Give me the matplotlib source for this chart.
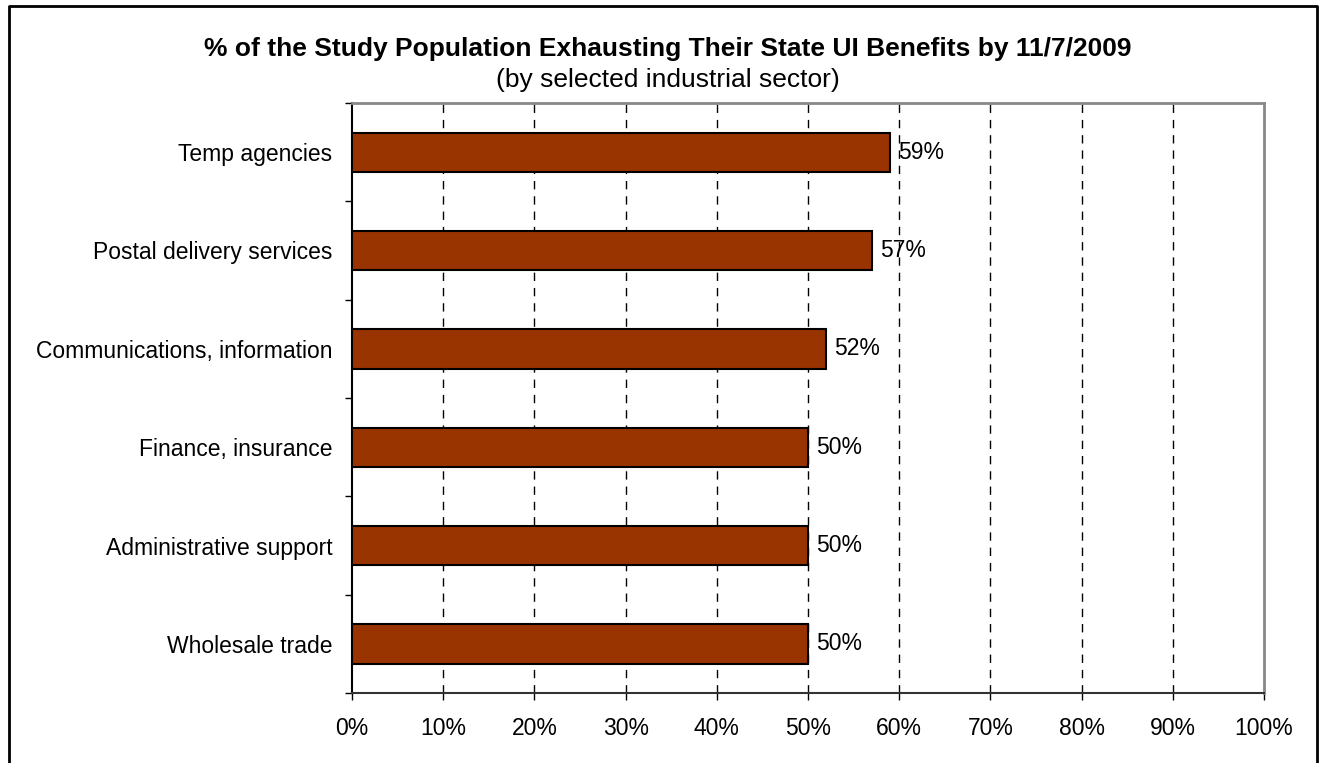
import matplotlib
matplotlib.use("Agg")
import matplotlib.pyplot as plt
from matplotlib.lines import Line2D
import numpy as np

categories = ["Temp agencies", "Postal delivery services", "Communications, information",
              "Finance, insurance", "Administrative support", "Wholesale trade"]
values = [59, 57, 52, 50, 50, 50]
xticks = [0, 10, 20, 30, 40, 50, 60, 70, 80, 90, 100]
xtick_labels = [f"{v}%" for v in xticks]
title = "% of the Study Population Exhausting Their State UI Benefits by 11/7/2009"
subtitle = "(by selected industrial sector)"

plt.rcParams['font.family'] = ['Liberation Sans', 'DejaVu Sans']

W, H = 1322, 763
fig = plt.figure(figsize=(W / 100, H / 100), dpi=100)
ax = fig.add_axes([352 / W, 1 - 693 / H, (1264 - 352) / W, (693 - 103) / H])

n = len(categories)
ypos = np.arange(n)[::-1]
ax.barh(ypos, values, height=0.4, color="#993300", edgecolor="black", linewidth=1.5, zorder=3)

for y, v in zip(ypos, values):
    ax.annotate(f"{v}%", xy=(v, y), xytext=(6, 0), textcoords="offset points",
                ha="left", va="center", fontsize=16.5)

ax.set_xlim(0, 100)
ax.set_ylim(-0.5, n - 0.5)
ax.set_xticks(xticks)
ax.set_xticklabels(xtick_labels, fontsize=16.5)
ax.set_yticks(ypos)
ax.set_yticklabels(categories, fontsize=16.5)
ax.set_yticks(np.arange(-0.5, n, 1.0), minor=True)
ax.tick_params(axis="y", which="major", length=0, pad=14)
ax.tick_params(axis="y", which="minor", length=5, width=1, color="black", direction="out")
ax.tick_params(axis="x", which="major", length=5, width=1, color="black", direction="out", pad=12)

for gx in xticks[1:-1]:
    ax.axvline(gx, color="black", linewidth=1, linestyle=(0, (6, 5)), zorder=1)

ax.spines["left"].set_color("black")
ax.spines["left"].set_linewidth(1.5)
ax.spines["bottom"].set_color("#333333")
ax.spines["bottom"].set_linewidth(1.5)
for s in ("top", "right"):
    ax.spines[s].set_color("#888888")
    ax.spines[s].set_linewidth(2)

fig.text(668 / W, 1 - 49 / H, title, ha="center", va="center", fontsize=19, fontweight="bold")
fig.text(668 / W, 1 - 80 / H, subtitle, ha="center", va="center", fontsize=19)

# figure frame (left, top, right)
x0, x1 = 9 / W, 1317 / W
y1 = 1 - 6 / H
fig.add_artist(Line2D([x0, x0, x1, x1], [0, y1, y1, 0], color="black", linewidth=2,
                      transform=fig.transFigure))

fig.savefig("out.png", dpi=100)
